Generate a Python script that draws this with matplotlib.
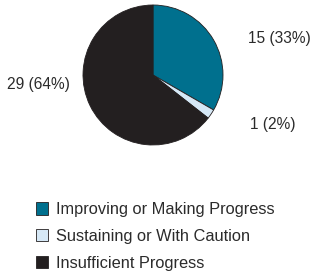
import matplotlib
matplotlib.use('Agg')
import matplotlib.pyplot as plt

plt.rcParams['font.family'] = ['Liberation Sans', 'DejaVu Sans']

categories = ['Improving or Making Progress', 'Sustaining or With Caution', 'Insufficient Progress']
counts = [15, 1, 29]
percents = [33, 2, 64]
colors = ['#00708E', '#D6E8F6', '#231F20']

W, H = 313, 274
fig = plt.figure(figsize=(W / 100, H / 100), dpi=100)
ax = fig.add_axes([0, 0, 1, 1])

wedges, _ = ax.pie(counts, colors=colors, startangle=90, counterclock=False,
                   center=(153, H - 75), radius=70,
                   wedgeprops=dict(edgecolor='#231F20', linewidth=0.6))
ax.set_xlim(0, W)
ax.set_ylim(0, H)
ax.set_aspect('equal')
ax.axis('off')

# data labels, placed beside the slices
label_pos = [(248, 39, 'left'), (250, 125, 'left'), (70, 84, 'right')]
for (x, y, ha), n, p in zip(label_pos, counts, percents):
    ax.text(x, H - y, '{} ({}%)'.format(n, p), ha=ha, va='center',
            fontsize=11.2, color='#2b2b2b')

leg = ax.legend(wedges, categories, loc='upper left', bbox_to_anchor=(36 / W, 1 - 202 / H),
                frameon=False, fontsize=11.8, handlelength=0.75, handleheight=0.8,
                handletextpad=0.5, labelspacing=0.72, borderpad=0, borderaxespad=0)
for t in leg.get_texts():
    t.set_color('#2b2b2b')

fig.savefig('out.png', dpi=100)
